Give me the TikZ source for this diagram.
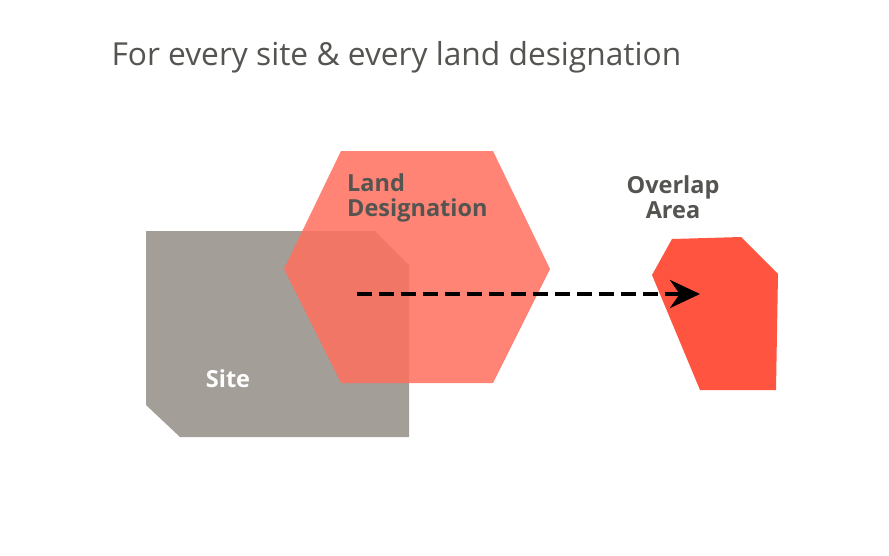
\documentclass[tikz,border=0pt]{standalone}
\usepackage{fontspec}
\setmainfont{Open Sans}
\usetikzlibrary{arrows.meta}
\definecolor{sitegray}{HTML}{A39E98}
\definecolor{designred}{HTML}{FF6F5E}
\definecolor{overlapred}{HTML}{FF5540}
\definecolor{textgray}{HTML}{545451}
\begin{document}
\begin{tikzpicture}[
            x=1pt, y=-1pt,
            label/.style={font=\fontsize{23.5}{28}\selectfont\bfseries, text=textgray, align=left}
        ]
            \useasboundingbox (0,0) rectangle (889,555);
            \fill[white] (0,0) rectangle (889,555);

            \node[anchor=west, text=textgray, font=\fontsize{31.7}{38}\selectfont] (title) at (108,57) {For every site \& every land designation};

            % shapes
            \fill[sitegray] (146,231) -- (375,231) -- (409,265) -- (409,437) -- (180,437) -- (146,405) -- cycle;
            \fill[designred, opacity=0.85] (341,151) -- (493,151) -- (550,269) -- (493,383) -- (341,383) -- (284,269) -- cycle;
            \fill[overlapred] (652,275) -- (672,239) -- (741,237) -- (778,274) -- (776,390) -- (700,390) -- cycle;

            \node[label, anchor=north west, inner sep=0pt] (land) at (347,173) {Land\\[-3pt]Designation};
            \node[label, align=center, inner sep=0pt] (overlap) at (673,197) {Overlap\\[-3pt]Area};
            \node[label, text=white] (site) at (228,379) {Site};

            \coordinate (start) at (357,294);
            \coordinate (end) at (700,294);
            \draw[-{Stealth[length=30pt,width=28pt]}, line width=4.5pt, dash pattern=on 15pt off 7pt] (start) -- (end);
        \end{tikzpicture}
\end{document}
